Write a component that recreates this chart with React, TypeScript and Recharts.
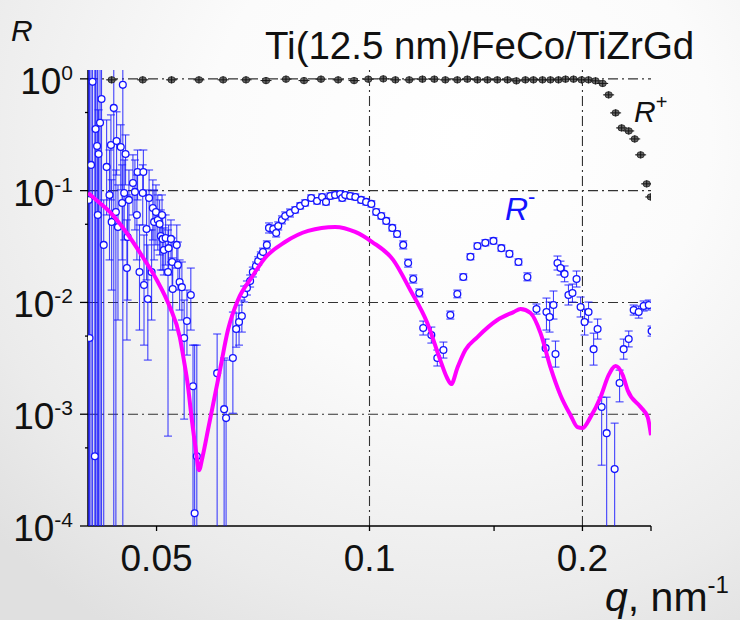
import React from 'react';
import { ScatterChart, Scatter, XAxis, YAxis, ErrorBar, ReferenceLine } from 'recharts';

const FONT = '"Liberation Sans", Arial, sans-serif';

// ---- axis ticks ----
const xDomain = [0.04, 0.25];
const yDomain = [1e-4, 1.2];
const xTicks = [0.05, 0.1, 0.15, 0.2, 0.25];
const xTickLabels: Record<string, string> = { '0.05': '0.05', '0.1': '0.1', '0.2': '0.2' };
const yTicks = [1e-4, 5e-4, 1e-3, 5e-3, 1e-2, 5e-2, 0.1, 0.5, 1];
const yMajor = [1e-4, 1e-3, 1e-2, 0.1, 1];
const gridY = [1, 0.1, 0.01, 0.001];
const gridX = [0.1, 0.2];

// ---- R+ ----
const plusQ = [0.0432, 0.0478, 0.0525, 0.0574, 0.0621, 0.0669, 0.0714, 0.0762, 0.0808, 0.0854, 0.0903, 0.0951, 0.0996, 0.1046, 0.1088, 0.1138, 0.1188, 0.1235, 0.128, 0.1331, 0.1375, 0.1421, 0.1468, 0.1516, 0.1567, 0.1613, 0.1661, 0.1705, 0.1756, 0.1802, 0.185, 0.1893, 0.1943, 0.1994, 0.204, 0.2087, 0.2136, 0.2178, 0.2228, 0.2272, 0.2325, 0.2371, 0.2417, 0.2465, 0.2498];
const plusR = [0.98, 0.98, 0.98, 0.98, 0.98, 0.98, 0.965, 0.994, 0.965, 0.994, 0.98, 0.965, 0.994, 1.0, 0.98, 0.98, 0.994, 0.994, 0.98, 0.98, 0.994, 0.98, 0.98, 0.98, 0.98, 0.96, 0.98, 0.98, 0.98, 0.98, 0.98, 0.994, 0.994, 0.98, 0.98, 0.96, 0.91, 0.719, 0.496, 0.364, 0.342, 0.29, 0.209, 0.115, 0.0878];

// ---- R- (measured, with error bar ends) ----
const minusQ = [0.0401, 0.0402, 0.0404, 0.0406, 0.0409, 0.041, 0.0412, 0.0413, 0.0414, 0.0416, 0.0418, 0.0421, 0.0425, 0.0429, 0.0431, 0.0432, 0.0435, 0.0438, 0.0439, 0.0441, 0.0445, 0.0447, 0.0448, 0.045, 0.0452, 0.0454, 0.0455, 0.0457, 0.0463, 0.0466, 0.0469, 0.047, 0.0473, 0.0478, 0.0479, 0.048, 0.0484, 0.0486, 0.0488, 0.0492, 0.0494, 0.0496, 0.0499, 0.0502, 0.0505, 0.0507, 0.0509, 0.051, 0.0512, 0.0515, 0.0519, 0.052, 0.0524, 0.0526, 0.0527, 0.0534, 0.0536, 0.0539, 0.0543, 0.0547, 0.0552, 0.0559, 0.0563, 0.0566, 0.057, 0.0609, 0.0623, 0.0627, 0.0641,
  0.0648, 0.0654, 0.066, 0.0665, 0.0671, 0.0678, 0.0684, 0.0691, 0.0696, 0.0702, 0.0707, 0.0716, 0.0721, 0.0731, 0.0738, 0.0743, 0.0752, 0.076, 0.0772, 0.0785, 0.0798, 0.0811, 0.0827, 0.0843, 0.0857, 0.0868, 0.088, 0.0894, 0.0909, 0.0915, 0.0924, 0.0939, 0.0955, 0.0973, 0.0989, 0.1006, 0.1022, 0.1039, 0.1056, 0.1077, 0.1094, 0.1116, 0.1134, 0.1153, 0.1176, 0.1191, 0.1223, 0.1247, 0.1272, 0.1301, 0.1331, 0.1357, 0.1389, 0.1421, 0.1458, 0.1497, 0.1536, 0.1577, 0.1624, 0.1672, 0.1722, 0.1774, 0.1779, 0.1797, 0.182, 0.1832, 0.1844, 0.1862, 0.1887, 0.1911, 0.1936, 0.1962, 0.1988, 0.2014, 0.204, 0.2074, 0.2101, 0.2129, 0.2164, 0.2221, 0.2257, 0.2287, 0.2325, 0.2363, 0.2402, 0.2441, 0.2482, 0.2505];
const minusR = [0.0826, 0.0048, 0.17, 0.94, 0.000421, 0.356, 0.251, 0.0606, 0.213, 0.404, 0.661, 0.0327, 0.163, 0.0915, 0.256, 0.0525, 0.55, 0.0645, 0.278, 0.0473, 0.246, 0.0776, 0.884, 0.0953, 0.213, 0.0203, 0.0385, 0.0826, 0.117, 0.0974, 0.0606, 0.147, 0.0187, 0.0953, 0.147, 0.01431, 0.0454, 0.01073, 0.086, 0.0187, 0.07, 0.0525, 0.0645, 0.0547, 0.0503, 0.0393, 0.0606, 0.037, 0.0294, 0.0377, 0.0187, 0.0306, 0.037, 0.023, 0.0132, 0.0327, 0.0216, 0.0152, 0.0137, 0.0048, 0.00682, 0.01165, 0.00178, 0.00013, 0.000421, 0.00233, 0.00111, 0.000923, 0.00318,
  0.00578, 0.00668, 0.00755, 0.0119, 0.01345, 0.01555, 0.0187, 0.0212, 0.0235, 0.0261, 0.0282, 0.0327, 0.0464, 0.0454, 0.0418, 0.0483, 0.0547, 0.0594, 0.0631, 0.0672, 0.073, 0.0776, 0.086, 0.0809, 0.0878, 0.0793, 0.0896, 0.0915, 0.0934, 0.086, 0.0915, 0.0896, 0.0878, 0.0826, 0.0793, 0.0761, 0.0645, 0.0594, 0.0536, 0.0464, 0.0409, 0.0327, 0.0225, 0.0162, 0.01213, 0.0059, 0.00511, 0.00318, 0.00375, 0.00771, 0.0119, 0.0169, 0.0256, 0.032, 0.0341, 0.0355, 0.0306, 0.0272, 0.023, 0.0169, 0.00873, 0.0039, 0.0082, 0.0074, 0.00948, 0.00345, 0.0225, 0.0203, 0.018, 0.01165, 0.01213, 0.0162, 0.0091, 0.00668, 0.0082, 0.00382, 0.00578, 0.00116, 0.000677, 0.000323, 0.0019, 0.00382, 0.00471, 0.00855, 0.0082, 0.00929, 0.00948, 0.00554];
const minusLo = [1e-5, 1e-5, 1e-5, 1e-5, 1e-5, 1e-5, 1e-5, 1e-5, 1e-5, 1e-5, 1e-5, 1e-5, 0.0606, 0.024, 0.0826, 0.0129, 1e-5, 1e-5, 0.138, 0.00696, 0.1015, 0.024, 1e-5, 0.0362, 0.1125, 0.00461, 0.0105, 0.0362, 0.0606, 0.0445, 0.024, 0.0826, 0.00566, 0.0493, 0.0915, 0.00415, 0.0159, 0.00305, 0.0445, 0.00696, 0.0362, 0.024, 0.0327, 0.0294, 0.0266, 0.0195, 0.0362, 0.0195, 0.0176, 0.0216, 0.000637, 0.0176, 0.023, 0.0129, 0.00566, 0.0203, 0.0129, 0.00855, 0.00696, 0.000904, 0.00338, 0.00566, 1e-5, 1e-5, 1e-5, 1e-5, 1e-5, 1e-5, 0.00102,
  0.00398, 0.00415, 0.00543, 0.0101, 0.01165, 0.01373, 0.0169, 0.0195, 0.0216, 0.024, 0.026, 0.0301, 0.0418, 0.0418, 0.0385, 0.0445, 0.0504, 0.0547, 0.0581, 0.0632, 0.0686, 0.073, 0.0808, 0.076, 0.0825, 0.0745, 0.0842, 0.086, 0.0878, 0.0808, 0.086, 0.0842, 0.0825, 0.0776, 0.0745, 0.0715, 0.0606, 0.0558, 0.0504, 0.0436, 0.0384, 0.0301, 0.0207, 0.0149, 0.0112, 0.00511, 0.00433, 0.0027, 0.00318, 0.0071, 0.011, 0.0159, 0.0241, 0.0301, 0.0321, 0.0334, 0.0288, 0.0256, 0.0216, 0.0156, 0.00787, 0.00324, 0.00566, 0.00543, 0.0071, 0.00264, 0.0195, 0.0176, 0.0153, 0.00948, 0.01008, 0.01374, 0.00741, 0.00511, 0.00667, 0.00275, 0.0047, 0.00035, 1e-5, 1e-5, 0.00129, 0.00311, 0.004, 0.00771, 0.00724, 0.00838, 0.00855, 0.005];
const minusHi = [3, 3, 3, 3, 3, 3, 3, 3, 0.528, 3, 3, 0.0826, 0.429, 0.231, 0.476, 0.125, 3, 0.153, 0.507, 0.1125, 0.388, 0.17, 3, 0.188, 0.315, 0.0547, 0.0915, 0.153, 0.209, 0.188, 0.138, 0.231, 0.0493, 0.17, 0.231, 0.0401, 0.1015, 0.0327, 0.153, 0.0445, 0.1247, 0.1015, 0.1125, 0.0915, 0.0826, 0.0672, 0.0915, 0.0606, 0.0464, 0.0606, 0.0445, 0.0493, 0.0547, 0.0377, 0.025, 0.0493, 0.0347, 0.024, 0.023, 0.0105, 0.0129, 0.0203, 0.00415, 0.00415, 0.00415, 0.00522, 0.00318, 0.00305, 0.0082,
  0.00803, 0.00948, 0.0105, 0.014, 0.01555, 0.0176, 0.0207, 0.023, 0.0256, 0.0283, 0.0306, 0.0355, 0.0514, 0.0493, 0.0454, 0.0525, 0.0594, 0.0645, 0.0685, 0.0715, 0.0777, 0.0826, 0.0915, 0.0861, 0.0934, 0.0844, 0.0953, 0.0974, 0.0994, 0.0915, 0.0974, 0.0953, 0.0934, 0.0879, 0.0844, 0.081, 0.0686, 0.0632, 0.057, 0.0494, 0.0435, 0.0355, 0.0244, 0.0176, 0.0132, 0.00681, 0.00602, 0.00375, 0.00442, 0.00837, 0.0129, 0.018, 0.0272, 0.034, 0.0363, 0.0378, 0.0326, 0.0289, 0.0245, 0.0184, 0.00968, 0.0047, 0.01094, 0.01008, 0.01265, 0.00451, 0.026, 0.0234, 0.0212, 0.01432, 0.0146, 0.0191, 0.01118, 0.00873, 0.01008, 0.00531, 0.0071, 0.00142, 0.00142, 0.000832, 0.00248, 0.0047, 0.00555, 0.00948, 0.00928, 0.0103, 0.0105, 0.00614];

// ---- fit (magenta) ----
const fitQ = [0.04, 0.04156, 0.04294, 0.04538, 0.0478, 0.05004, 0.05221, 0.05393, 0.05465, 0.05536, 0.05609, 0.05682, 0.05739, 0.05814, 0.0591, 0.05988, 0.06146, 0.06308, 0.06517, 0.06821, 0.07117, 0.07596, 0.08189, 0.08941, 0.09545, 0.1009, 0.108, 0.1142, 0.1207, 0.1259, 0.1288, 0.1305, 0.1331, 0.1366, 0.1421, 0.1516, 0.1598, 0.1635, 0.1689, 0.1745, 0.1802, 0.1862, 0.1924, 0.1968, 0.2, 0.2053, 0.2121, 0.2178, 0.2228, 0.228, 0.2317, 0.2417, 0.2473, 0.25];
const fitR = [0.0954, 0.0776, 0.0645, 0.0418, 0.0255, 0.01587, 0.0091, 0.0049, 0.00305, 0.00182, 0.000886, 0.000477, 0.000316, 0.00043, 0.00072, 0.00109, 0.00248, 0.00566, 0.0105, 0.01688, 0.025, 0.0347, 0.0436, 0.0473, 0.0427, 0.0347, 0.024, 0.0129, 0.00654, 0.00305, 0.0021, 0.00186, 0.00259, 0.00375, 0.0049, 0.00696, 0.0082, 0.00873, 0.00804, 0.00532, 0.00264, 0.00148, 0.00098, 0.000766, 0.000751, 0.000942, 0.00142, 0.00224, 0.0027, 0.00224, 0.00164, 0.00116, 0.000942, 0.00065];

const minusData = minusQ.map((q, i) => ({ q, R: minusR[i], err: [minusR[i] - minusLo[i], minusHi[i] - minusR[i]] }));
const plusData = plusQ.map((q, i) => ({ q, R: plusR[i] }));
const fitData = fitQ.map((q, i) => ({ q, R: fitR[i] }));

const BLUE = '#1414ff';
const W = 740;
const H = 620;
const PLOT = { left: 88, right: 89, top: 70, bottom: 94 };

const OpenCircle = (p: any) =>
  p.cx == null ? <g /> : <circle cx={p.cx} cy={p.cy} r={3.4} fill="#ffffff" stroke={BLUE} strokeWidth={1.3} />;

const PlusMarker = (p: any) =>
  p.cx == null ? <g /> : (
    <g>
      <line x1={p.cx - 5.5} x2={p.cx + 5.5} y1={p.cy} y2={p.cy} stroke="#111" strokeWidth={1} />
      <ellipse cx={p.cx} cy={p.cy} rx={3.7} ry={3.2} fill="#666" stroke="#222" strokeWidth={0.8} />
      <line x1={p.cx} x2={p.cx} y1={p.cy - 3.5} y2={p.cy + 3.5} stroke="#111" strokeWidth={0.9} />
      <line x1={p.cx - 3.7} x2={p.cx + 3.7} y1={p.cy} y2={p.cy} stroke="#111" strokeWidth={0.9} />
    </g>
  );

const NoShape = () => <g />;

const YTick = (props: any) => {
  const { x, y, payload } = props;
  const v = payload.value;
  const exp = Math.round(Math.log10(v));
  const major = yMajor.some((m) => Math.abs(m - v) < 1e-12);
  const axisX = x + 12;
  return (
    <g>
      <line x1={axisX - (major ? 8 : 3)} x2={axisX} y1={y} y2={y} stroke="#000" strokeWidth={1.3} />
      {major && (
        <text x={x - 3} y={y + 15} textAnchor="end" fontSize={37} fontFamily={FONT} fill="#111">
          10<tspan dy={-14} fontSize={21}>{String(exp)}</tspan>
        </text>
      )}
    </g>
  );
};

const XTick = (props: any) => {
  const { x, y, payload } = props;
  const label = xTickLabels[String(payload.value)];
  if (!label) return <g />;
  return (
    <text x={x} y={y + 38} textAnchor="middle" fontSize={37} fontFamily={FONT} fill="#111">
      {label}
    </text>
  );
};

export default function App() {
  return (
    <div
      style={{
        position: 'absolute',
        left: 0,
        top: 0,
        width: W,
        height: H,
        overflow: 'hidden',
        background: 'radial-gradient(ellipse 85% 95% at 62% 22%, #ffffff 0%, #fbfbfb 40%, #ebebeb 80%, #e0e0e0 100%)',
      }}
    >
      {/* axes + grid */}
      <div style={{ position: 'absolute', left: 0, top: 0 }}>
        <ScatterChart width={W} height={H} margin={{ top: PLOT.top, right: PLOT.right, bottom: PLOT.bottom - 60, left: PLOT.left - 80 }}>
          <XAxis
            type="number"
            dataKey="q"
            scale="log"
            domain={xDomain}
            allowDataOverflow
            ticks={xTicks}
            interval={0}
            tick={<XTick />}
            tickSize={5}
            tickMargin={2}
            height={60}
            axisLine={{ stroke: '#000', strokeWidth: 1.5 }}
            tickLine={{ stroke: '#000', strokeWidth: 1.3 }}
          />
          <YAxis
            type="number"
            dataKey="R"
            scale="log"
            domain={yDomain}
            allowDataOverflow
            ticks={yTicks}
            interval={0}
            tick={<YTick />}
            tickLine={false}
            tickSize={8}
            tickMargin={4}
            width={80}
            axisLine={{ stroke: '#000', strokeWidth: 1.5 }}
          />
          {gridY.map((v) => (
            <ReferenceLine key={'gy' + v} y={v} stroke="#333" strokeWidth={1.1} strokeDasharray="10 4 2 4" />
          ))}
          {gridX.map((v) => (
            <ReferenceLine key={'gx' + v} x={v} stroke="#333" strokeWidth={1.1} strokeDasharray="10 4 2 4" />
          ))}
        </ScatterChart>
      </div>
      {/* data, clipped to plot area */}
      <div
        style={{
          position: 'absolute',
          left: 0,
          top: 0,
          clipPath: `inset(${PLOT.top}px ${PLOT.right}px ${PLOT.bottom}px ${PLOT.left}px)`,
        }}
      >
        <ScatterChart width={W} height={H} margin={{ top: PLOT.top, right: PLOT.right, bottom: PLOT.bottom, left: PLOT.left }}>
          <XAxis type="number" dataKey="q" scale="log" domain={xDomain} allowDataOverflow hide />
          <YAxis type="number" dataKey="R" scale="log" domain={yDomain} allowDataOverflow hide />
          <Scatter data={minusData} shape={<OpenCircle />} isAnimationActive={false}>
            <ErrorBar dataKey="err" direction="y" width={4} stroke={BLUE} strokeWidth={1.1} strokeOpacity={0.8} />
          </Scatter>
          <Scatter
            data={fitData}
            shape={<NoShape />}
            line={{ stroke: '#ff00ff', strokeWidth: 4 }}
            lineJointType="monotoneX"
            isAnimationActive={false}
          />
          <Scatter data={plusData} shape={<PlusMarker />} isAnimationActive={false} />
        </ScatterChart>
      </div>
      <svg width={W} height={H} style={{ position: 'absolute', left: 0, top: 0, pointerEvents: 'none' }}>
        <text x={11} y={41} fontSize={30} fontStyle="italic" fontFamily={FONT} fill="#111">R</text>
        <text x={265} y={59} fontSize={38.5} fontFamily={FONT} fill="#111">Ti(12.5 nm)/FeCo/TiZrGd</text>
        <text x={634} y={122} fontSize={30} fontFamily={FONT} fill="#111">
          <tspan fontStyle="italic">R</tspan>
          <tspan dy={-13} fontSize={20}>+</tspan>
        </text>
        <text x={505} y={220} fontSize={32} fontFamily={FONT} fill={BLUE}>
          <tspan fontStyle="italic">R</tspan>
          <tspan dy={-16} fontSize={22}>-</tspan>
        </text>
        <text x={605} y={611} fontSize={41} fontFamily={FONT} fill="#111">
          <tspan fontStyle="italic">q</tspan>
          <tspan>, nm</tspan>
          <tspan dy={-18} fontSize={24}>-1</tspan>
        </text>
      </svg>
    </div>
  );
}
